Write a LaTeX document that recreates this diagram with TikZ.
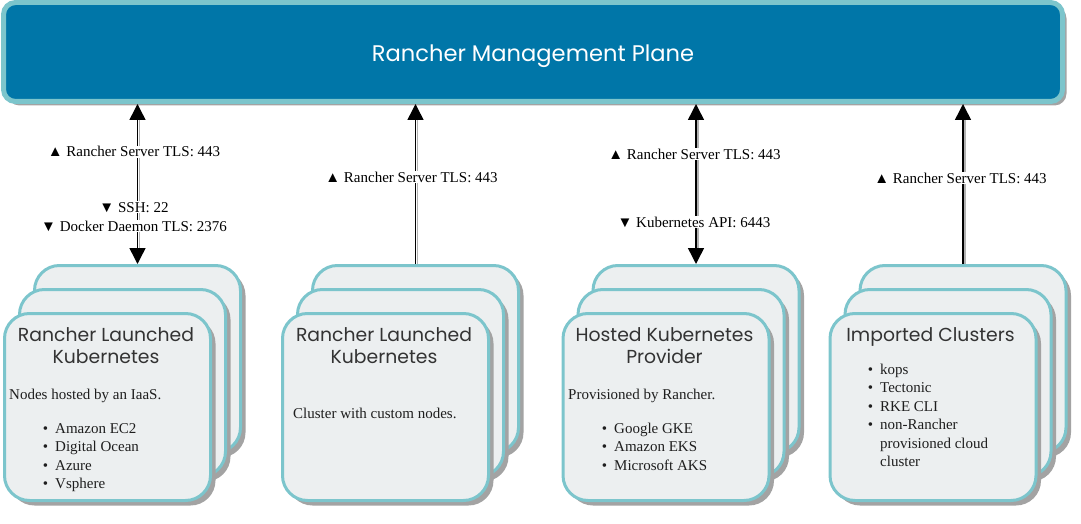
\documentclass[tikz,border=0pt]{standalone}
\usepackage{fontspec}
\setmainfont{Liberation Serif}
\newfontfamily\popfont{Poppins}
\usetikzlibrary{arrows.meta,shadows}
\definecolor{planeblue}{HTML}{0076A8}
\definecolor{tealb}{HTML}{7CC5CC}
\definecolor{boxfill}{HTML}{ECEFF0}
\definecolor{shadowgray}{HTML}{A3A3A3}
\definecolor{titlegray}{HTML}{333333}
\definecolor{bodygray}{HTML}{1E1E1E}
\newcommand\cardbullet{\llap{\textbullet\hspace{7pt}}}
\tikzset{
  plane/.style={draw=tealb, line width=5pt, fill=planeblue, rounded corners=12pt,
    minimum width=1059pt, minimum height=99pt, inner sep=0pt,
    drop shadow={shadow xshift=4pt, shadow yshift=-4pt, fill=shadowgray, opacity=1}},
  card/.style={draw=tealb, line width=3pt, fill=boxfill, rounded corners=25pt,
    minimum width=206pt, minimum height=187pt, inner sep=0pt,
    drop shadow={shadow xshift=5pt, shadow yshift=-5pt, fill=shadowgray, opacity=1}},
  cardtitle/.style={font=\popfont\fontsize{18.8}{22}\selectfont, text=titlegray, anchor=base, inner sep=0pt},
  body/.style={font=\fontsize{15}{18}\selectfont, text=bodygray, anchor=base west, inner sep=0pt},
  lbl/.style={font=\fontsize{15}{18}\selectfont, fill=white, inner sep=1pt, anchor=base},
  conn/.style={draw=black, line width=1.5pt, >={Triangle[width=16pt,length=16pt]}},
  connshadow/.style={draw=black!30, line width=1.5pt, transform canvas={xshift=2pt}}
}
\begin{document}
\begin{tikzpicture}[x=1pt,y=-1pt]
\useasboundingbox (0,0) rectangle (1081,524);

\node[plane] (plane) at (533,52) {};
\node[font=\popfont\fontsize{22.6}{26}\selectfont, text=white, inner sep=0pt, anchor=base] (ptitle) at (533,62) {Rancher Management Plane};

% column 1
\node[card] (b1) at (137.5,359) {};
\node[card] (m1) at (122.5,383) {};
\node[card] (f1) at (107.5,407) {};
% column 2
\node[card] (b2) at (415.5,359) {};
\node[card] (m2) at (400.5,383) {};
\node[card] (f2) at (385.5,407) {};
% column 3
\node[card] (b3) at (696,359) {};
\node[card] (m3) at (681,383) {};
\node[card] (f3) at (666,407) {};
% column 4
\node[card] (b4) at (963,359) {};
\node[card] (m4) at (948,383) {};
\node[card] (f4) at (933,407) {};

% connectors
\draw[connshadow, shorten <=16pt, shorten >=16pt] (b1.north) -- (b1.north |- plane.south);
\draw[conn, <->] (b1.north) -- (b1.north |- plane.south);
\draw[connshadow, shorten >=16pt] (b2.north) -- (b2.north |- plane.south);
\draw[conn, ->] (b2.north) -- (b2.north |- plane.south);
\draw[connshadow, shorten <=16pt, shorten >=16pt] (b3.north) -- (b3.north |- plane.south);
\draw[conn, <->] (b3.north) -- (b3.north |- plane.south);
\draw[connshadow, shorten >=16pt] (b4.north) -- (b4.north |- plane.south);
\draw[conn, ->] (b4.north) -- (b4.north |- plane.south);

% connector labels
\node[lbl] (l1a) at (134,157) {▲ Rancher Server TLS: 443};
\node[lbl] (l1b) at (134,212) {▼ SSH: 22};
\node[lbl] (l1c) at (134,231) {▼ Docker Daemon TLS: 2376};
\node[lbl] (l2a) at (411.5,182) {▲ Rancher Server TLS: 443};
\node[lbl] (l3a) at (694.5,159) {▲ Rancher Server TLS: 443};
\node[lbl] (l3b) at (694,227) {▼ Kubernetes API: 6443};
\node[lbl] (l4a) at (960.5,183) {▲ Rancher Server TLS: 443};

% card 1 text
\node[cardtitle] (t1a) at (106,341) {Rancher Launched};
\node[cardtitle] (t1b) at (106,363) {Kubernetes};
\node[body] (d1) at (9,399) {Nodes hosted by an IaaS.};
\node[body] (i1a) at (55,433) {\cardbullet Amazon EC2};
\node[body] (i1b) at (55,451.5) {\cardbullet Digital Ocean};
\node[body] (i1c) at (55,470) {\cardbullet Azure};
\node[body] (i1d) at (55,488.5) {\cardbullet Vsphere};

% card 2 text
\node[cardtitle] (t2a) at (384,341) {Rancher Launched};
\node[cardtitle] (t2b) at (384,363) {Kubernetes};
\node[body] (d2) at (293,418) {Cluster with custom nodes.};

% card 3 text
\node[cardtitle] (t3a) at (664.5,341) {Hosted Kubernetes};
\node[cardtitle] (t3b) at (664.5,363) {Provider};
\node[body] (d3) at (568,399) {Provisioned by Rancher.};
\node[body] (i3a) at (614,433) {\cardbullet Google GKE};
\node[body] (i3b) at (614,451.5) {\cardbullet Amazon EKS};
\node[body] (i3c) at (614,470) {\cardbullet Microsoft AKS};

% card 4 text
\node[cardtitle] (t4a) at (930.5,341) {Imported Clusters};
\node[body] (i4a) at (880,374) {\cardbullet kops};
\node[body] (i4b) at (880,392.5) {\cardbullet Tectonic};
\node[body] (i4c) at (880,411) {\cardbullet RKE CLI};
\node[body] (i4d) at (880,429.5) {\cardbullet non-Rancher};
\node[body] (i4e) at (880,448) {provisioned cloud};
\node[body] (i4f) at (880,466.5) {cluster};
\end{tikzpicture}
\end{document}
